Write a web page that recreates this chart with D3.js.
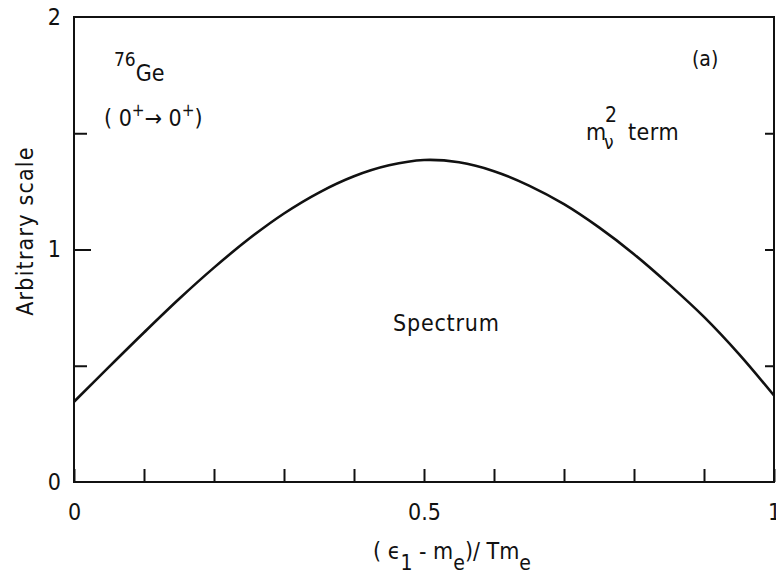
<!DOCTYPE html>
<html>
<head>
<meta charset="utf-8">
<script src="https://cdn.jsdelivr.net/npm/d3@7"></script>
<style>
  html, body { margin: 0; padding: 0; background: #fff; }
  svg text { font-family: "DejaVu Sans", sans-serif; font-stretch: condensed; fill: #111; }
</style>
</head>
<body>
<svg id="chart" width="776" height="587"></svg>
<script>
// Reduced electron energy (epsilon_1 - m_e)/T m_e
const energy = [0, 0.05, 0.1, 0.15, 0.2, 0.25, 0.3, 0.35, 0.4, 0.45, 0.5,
                0.55, 0.6, 0.65, 0.7, 0.75, 0.8, 0.85, 0.9, 0.95, 1.0];
// Single-electron spectrum, m_nu^2 term (arbitrary scale)
const spectrum = [0.345, 0.495, 0.643, 0.787, 0.922, 1.046, 1.155, 1.245, 1.315, 1.362, 1.385,
                  1.375, 1.337, 1.275, 1.195, 1.095, 0.98, 0.85, 0.71, 0.55, 0.372];
const xTickValues = [0, 0.1, 0.2, 0.3, 0.4, 0.5, 0.6, 0.7, 0.8, 0.9, 1];
const xTickLabels = ["0", "0.5", "1"];
const yTickValues = [0, 0.5, 1, 1.5, 2];
const yTickLabels = ["0", "1", "2"];

const svg = d3.select("#chart");
const margin = { left: 74, top: 17, right: 2, bottom: 105 };
const W = 776, H = 587;
const iw = W - margin.left - margin.right;
const ih = H - margin.top - margin.bottom;
const FS = 23;

const x = d3.scaleLinear().domain([0, 1]).range([margin.left, margin.left + iw]);
const y = d3.scaleLinear().domain([0, 2]).range([margin.top + ih, margin.top]);

// Frame
svg.append("rect")
  .attr("x", x(0)).attr("y", y(2))
  .attr("width", x(1) - x(0)).attr("height", y(0) - y(2))
  .attr("fill", "none").attr("stroke", "#111").attr("stroke-width", 2);

// Bottom axis: inward ticks
const xAxis = d3.axisBottom(x)
  .tickValues(xTickValues)
  .tickSizeInner(-13).tickSizeOuter(0)
  .tickFormat(d => xTickLabels.includes(String(d)) ? String(d) : "");
const gx = svg.append("g").attr("transform", `translate(0,${y(0)})`).call(xAxis);
gx.select(".domain").remove();
gx.attr("font-family", null).attr("font-size", null);
gx.selectAll(".tick line").attr("stroke", "#111").attr("stroke-width", 2);
gx.selectAll(".tick text").attr("y", 22).attr("font-size", FS);

// Left axis: inward ticks
const yAxis = d3.axisLeft(y)
  .tickValues(yTickValues)
  .tickSizeInner(-13).tickSizeOuter(0)
  .tickFormat(d => yTickLabels.includes(String(d)) ? String(d) : "");
const gy = svg.append("g").attr("transform", `translate(${x(0)},0)`).call(yAxis);
gy.select(".domain").remove();
gy.attr("font-family", null).attr("font-size", null);
gy.selectAll(".tick line")
  .attr("stroke", "#111").attr("stroke-width", 2)
  .attr("x2", d => (d === 0 || d === 2) ? 0 : (d === 1 ? 17 : 13));
gy.selectAll(".tick text").attr("x", -13).attr("font-size", FS);

// Right axis: short inward ticks, no labels
const yAxisR = d3.axisRight(y)
  .tickValues([0.5, 1, 1.5])
  .tickSizeInner(-9).tickSizeOuter(0)
  .tickFormat("");
const gyr = svg.append("g").attr("transform", `translate(${x(1)},0)`).call(yAxisR);
gyr.select(".domain").remove();
gyr.selectAll(".tick line").attr("stroke", "#111").attr("stroke-width", 2);

// Spectrum curve
const pts = energy.map((e, i) => [e, spectrum[i]]);
const line = d3.line()
  .x(d => x(d[0]))
  .y(d => y(d[1]))
  .curve(d3.curveCatmullRom.alpha(0.5));
svg.append("path")
  .datum(pts)
  .attr("d", line)
  .attr("fill", "none")
  .attr("stroke", "#111")
  .attr("stroke-width", 2.6);

// Axis titles
svg.append("text")
  .attr("transform", `translate(33,231) rotate(-90)`)
  .attr("text-anchor", "middle")
  .attr("font-size", FS)
  .attr("letter-spacing", 1.2)
  .text("Arbitrary scale");

const xt = svg.append("text")
  .attr("x", x(0.5) + 28)
  .attr("y", 559)
  .attr("text-anchor", "middle")
  .attr("font-size", FS);
xt.append("tspan").text("( \u03F5");
xt.append("tspan").attr("dy", 11).attr("font-size", 21).text("1");
xt.append("tspan").attr("dy", -11).text(" - m");
xt.append("tspan").attr("dy", 11).attr("font-size", 21).text("e");
xt.append("tspan").attr("dy", -11).text(")/ Tm");
xt.append("tspan").attr("dy", 11).attr("font-size", 21).text("e");

// Annotations
const ge = svg.append("text").attr("x", 114).attr("y", 81).attr("font-size", FS);
ge.append("tspan").attr("dy", -15).attr("font-size", 19).text("76");
ge.append("tspan").attr("dy", 15).text("Ge");

const tr = svg.append("text").attr("x", 104).attr("y", 126).attr("font-size", FS);
tr.append("tspan").text("( 0");
tr.append("tspan").attr("dy", -10).attr("font-size", 17).text("+");
tr.append("tspan").attr("dy", 10).text("\u2192 0");
tr.append("tspan").attr("dy", -10).attr("font-size", 17).text("+");
tr.append("tspan").attr("dy", 10).text(")");

svg.append("text").attr("x", 692).attr("y", 66).attr("font-size", 21).text("(a)");

// m_nu^2 term label, with stacked super/subscript
svg.append("text").attr("x", 586).attr("y", 140).attr("font-size", FS).text("m");
svg.append("text").attr("x", 605).attr("y", 122).attr("font-size", 21).text("2");
svg.append("text").attr("x", 604).attr("y", 149).attr("font-size", 19).text("\u03BD");
svg.append("text").attr("x", 628).attr("y", 140).attr("font-size", FS)
  .attr("letter-spacing", 0.5).text("term");

svg.append("text").attr("x", 393).attr("y", 331).attr("font-size", FS)
  .attr("letter-spacing", 0.8).text("Spectrum");
</script>
</body>
</html>
